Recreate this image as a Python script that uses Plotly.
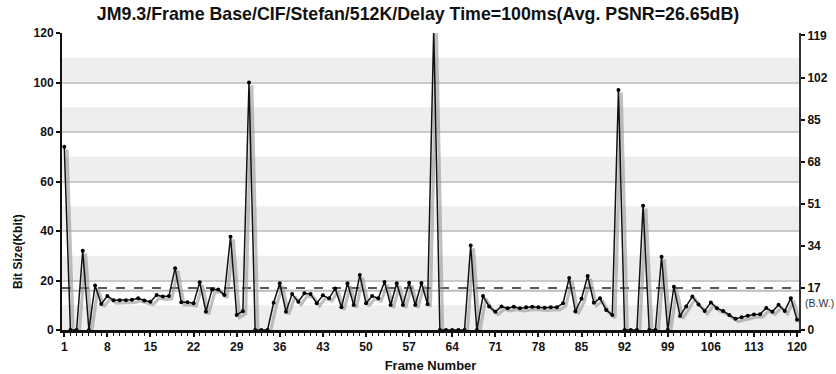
import plotly.graph_objects as go

frames = list(range(1, 121))
bit_size = [
    74, 0, 0, 32, 0, 18, 10.5, 13.7, 12, 12,
    12, 12.2, 12.8, 11.9, 11.4, 14.1, 13.5, 13.7, 25, 11.2,
    11.2, 10.8, 19.3, 7.4, 16.4, 16.4, 14.1, 37.7, 6.1, 7.6,
    100, 0, 0, 0, 11, 18.9, 7.4, 14.5, 11.4, 14.8,
    14.5, 10.8, 14, 12.8, 16.8, 9.2, 18.9, 10.1, 22.2, 10.8,
    13.7, 12.8, 19.4, 10.1, 18.9, 10.1, 19.1, 10.1, 19, 10.4,
    121.5, 0, 0, 0, 0, 0, 34.1, 0, 13.7, 9.5,
    7.4, 9.5, 8.8, 9.4, 8.8, 9.2, 9.4, 9.2, 9.0, 9.2,
    9.2, 10.8, 21, 7.5, 12.6, 21.8, 11, 12.8, 8.1, 6.1,
    97, 0, 0, 0, 50.2, 0, 0, 29.6, 0, 17.5,
    5.7, 9.5, 13.5, 10.3, 7.7, 11.1, 8.8, 7.7, 6.1, 4.5,
    5.2, 5.8, 6.3, 6.4, 8.9, 7.4, 10.2, 7.7, 12.8, 4.1,
]
left_ticks = [0, 20, 40, 60, 80, 100, 120]
right_ticks = [0, 17, 34, 51, 68, 85, 102, 119]
x_ticks = list(range(1, 121, 7))
bandwidth = 17
title_text = "JM9.3/Frame Base/CIF/Stefan/512K/Delay Time=100ms(Avg. PSNR=26.65dB)"

FONT = "Liberation Sans, Arial, sans-serif"
XR = [0.63, 120.32]
YR = [0, 120]
SHX = 0.45   # shadow offset (frames)
SHY = 1.1    # shadow offset (kbit)

fig = go.Figure()

# shadow (drawn on the hidden, shifted main axes)
fig.add_trace(go.Scatter(
    x=frames, y=bit_size, mode="lines", xaxis="x", yaxis="y",
    line=dict(color="rgba(150,150,150,0.6)", width=3.2), hoverinfo="skip",
    cliponaxis=False, showlegend=False))

# main series
fig.add_trace(go.Scatter(
    x=frames, y=bit_size, mode="lines+markers", xaxis="x2", yaxis="y2",
    line=dict(color="#111111", width=1.5),
    marker=dict(color="#000000", size=4), cliponaxis=False, showlegend=False))

# invisible trace for right axis
fig.add_trace(go.Scatter(x=[frames[0]], y=[0], xaxis="x2", yaxis="y3",
                         mode="markers", marker=dict(opacity=0), cliponaxis=False,
                         hoverinfo="skip", showlegend=False))

shapes = []
for lo in range(0, 120, 20):
    shapes.append(dict(type="rect", xref="paper", yref="y2", x0=0, x1=1,
                       y0=lo, y1=lo + 10, fillcolor="#eeeeee",
                       line=dict(width=0), layer="below"))
# bandwidth shadow + line
shapes.append(dict(type="line", xref="paper", yref="y", x0=0, x1=1,
                   y0=bandwidth, y1=bandwidth,
                   line=dict(color="#bdbdbd", width=2), layer="between"))
shapes.append(dict(type="line", xref="paper", yref="y2", x0=0, x1=1,
                   y0=bandwidth, y1=bandwidth,
                   line=dict(color="#222222", width=1.5, dash="dash"), layer="between"))

tickfont = dict(family=FONT, size=12, color="#111111")

fig.update_layout(
    width=836, height=374,
    margin=dict(l=62, r=37, t=33, b=44, autoexpand=False),
    paper_bgcolor="white", plot_bgcolor="white",
    font=dict(family=FONT, color="#111111"),
    shapes=shapes,
    title=dict(text=f"<b>{title_text}</b>", x=0.5, xref="container",
               xanchor="center", y=1 - 14 / 374, yref="container",
               yanchor="middle", font=dict(family=FONT, size=17.8, color="#111111")),
    xaxis=dict(range=[XR[0] - SHX, XR[1] - SHX], visible=False, fixedrange=True,
               automargin=False),
    yaxis=dict(range=[YR[0] + SHY, YR[1] + SHY], visible=False, fixedrange=True,
               automargin=False),
    xaxis2=dict(overlaying="x", anchor="y2", range=XR, automargin=False,
                tickmode="array", tickvals=x_ticks,
                ticktext=[f"<b>{v}</b>" for v in x_ticks],
                ticks="outside", ticklen=4, tickwidth=1.5, tickcolor="#111111",
                minor=dict(dtick=1, tick0=1, ticks="outside", ticklen=3,
                           tickwidth=1, tickcolor="#111111"),
                showline=True, linecolor="#111111", linewidth=2.5,
                showgrid=False, zeroline=False, tickfont=tickfont,
                title=dict(text="<b>Frame Number</b>", font=dict(family=FONT, size=13),
                           standoff=8)),
    yaxis2=dict(overlaying="y", anchor="x2", range=YR, side="left", automargin=False,
                tickmode="array", tickvals=left_ticks,
                ticktext=[f"<b>{v}</b>" for v in left_ticks],
                ticks="outside", ticklen=4, tickwidth=1.5, tickcolor="#111111",
                showline=True, linecolor="#111111", linewidth=2,
                showgrid=True, gridcolor="#cacaca", gridwidth=1.5, dtick=10,
                zeroline=False, tickfont=tickfont),
    yaxis3=dict(overlaying="y", anchor="x2", side="right", range=YR, automargin=False,
                tickmode="array", tickvals=right_ticks,
                ticktext=[f"<b>{v}</b>" for v in right_ticks],
                ticks="outside", ticklen=4, tickwidth=1.5, tickcolor="#111111",
                showline=True, linecolor="#333333", linewidth=2,
                showgrid=False, zeroline=False, tickfont=tickfont),
    annotations=[
        dict(text="<b>Bit Size(Kbit)</b>", xref="paper", yref="paper",
             x=0, xshift=-44, y=0.263, textangle=-90, xanchor="center",
             yanchor="middle", showarrow=False,
             font=dict(family=FONT, size=12, color="#111111")),
        dict(text="(B.W.)", xref="paper", yref="y2", x=1, xshift=20,
             y=bandwidth, yshift=-15, xanchor="center", yanchor="middle",
             showarrow=False, font=dict(family=FONT, size=10.5, color="#333333")),
    ],
)

fig.write_html("out.html", config={"displayModeBar": False},
               post_script="document.body.style.margin='0';document.body.style.padding='0';")
